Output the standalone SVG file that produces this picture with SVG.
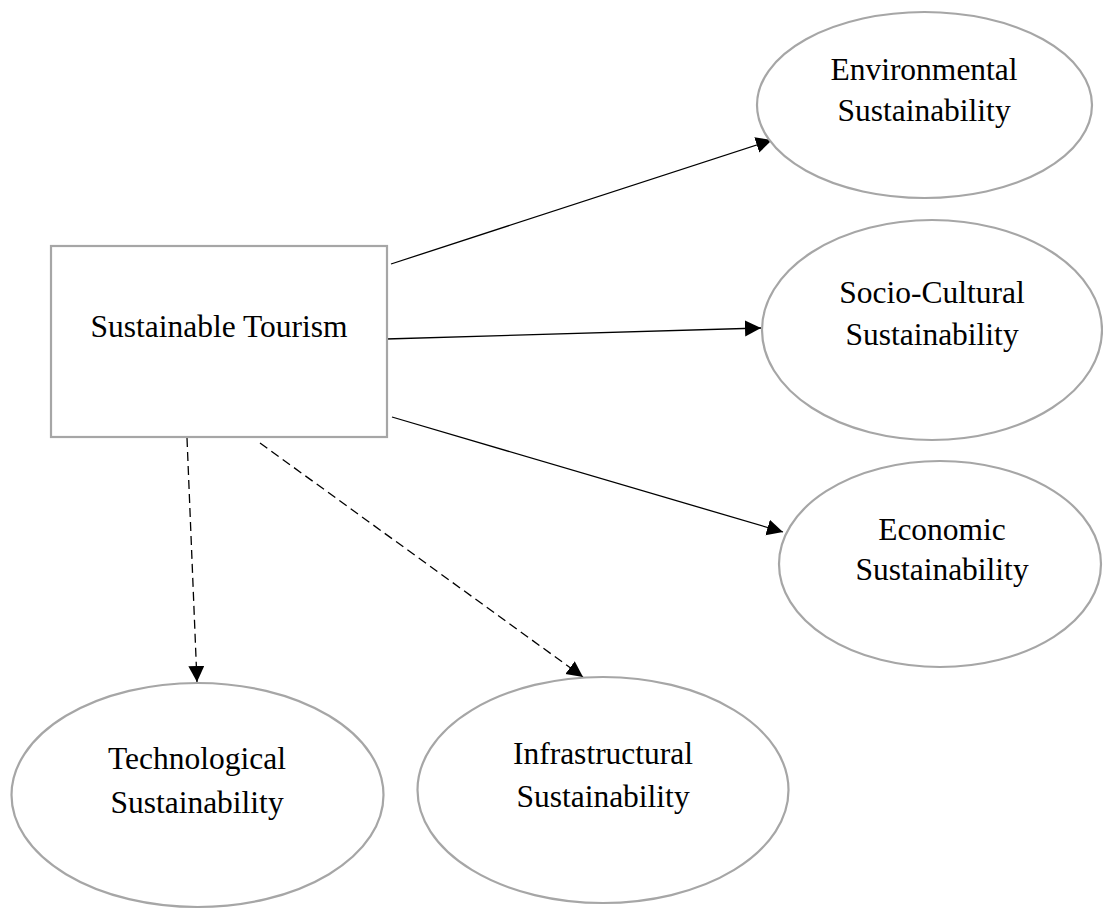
<svg xmlns="http://www.w3.org/2000/svg" width="1103" height="909" viewBox="0 0 1103 909">
<style>
.node{fill:#ffffff;stroke:#a6a6a6;stroke-width:2.2}
.lbl{font-family:"Liberation Serif","Times New Roman",serif;font-size:31.5px;fill:#000;text-anchor:middle}
.edge{stroke:#000;stroke-width:1.3;fill:none}
.dash{stroke-dasharray:9,5}
</style>
<defs>
<marker id="ah" markerUnits="userSpaceOnUse" markerWidth="17" markerHeight="17" refX="16" refY="8" orient="auto">
<path d="M0,0 L16,8 L0,16 z" fill="#000"/>
</marker>
</defs>
<rect width="1103" height="909" fill="#fff"/>
<g id="connectors">
<line class="edge" x1="391" y1="264" x2="772" y2="140" marker-end="url(#ah)"/>
<line class="edge" x1="386" y1="339" x2="761" y2="328" marker-end="url(#ah)"/>
<line class="edge" x1="392" y1="417" x2="783" y2="532" marker-end="url(#ah)"/>
<line class="edge dash" x1="187" y1="438" x2="197" y2="682" marker-end="url(#ah)"/>
<line class="edge dash" x1="260" y1="443" x2="583" y2="677" marker-end="url(#ah)"/>
</g>
<g id="sustainable-tourism">
<rect class="node" x="51" y="246" width="336" height="191"/>
<text class="lbl" x="219" y="337">Sustainable Tourism</text>
</g>
<g id="environmental">
<ellipse class="node" cx="924.5" cy="105" rx="167.5" ry="93"/>
<text class="lbl" x="924" y="80">Environmental</text>
<text class="lbl" x="924" y="121">Sustainability</text>
</g>
<g id="socio-cultural">
<ellipse class="node" cx="932" cy="330" rx="170" ry="110"/>
<text class="lbl" x="932" y="303">Socio-Cultural</text>
<text class="lbl" x="932" y="345">Sustainability</text>
</g>
<g id="economic">
<ellipse class="node" cx="940" cy="564" rx="161" ry="103"/>
<text class="lbl" x="942" y="540">Economic</text>
<text class="lbl" x="942" y="580">Sustainability</text>
</g>
<g id="technological">
<ellipse class="node" cx="197.5" cy="795" rx="186" ry="112"/>
<text class="lbl" x="197" y="769">Technological</text>
<text class="lbl" x="197" y="813">Sustainability</text>
</g>
<g id="infrastructural">
<ellipse class="node" cx="603" cy="790" rx="185.5" ry="113"/>
<text class="lbl" x="603" y="764">Infrastructural</text>
<text class="lbl" x="603" y="807">Sustainability</text>
</g>
</svg>
